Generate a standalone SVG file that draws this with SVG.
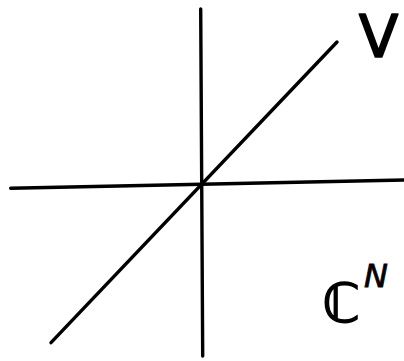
<svg xmlns="http://www.w3.org/2000/svg" width="404" height="361" viewBox="0 0 404 361">
<style>
.ln{stroke:#000;stroke-width:3.4;stroke-linecap:round;fill:none}
.lbl{font-family:"DejaVu Sans","Liberation Sans",sans-serif;fill:#000}
</style>
<rect width="404" height="361" fill="#fff"/>
<g id="axes">
<line class="ln" x1="200.7" y1="9" x2="202.7" y2="356"/>
<line class="ln" x1="10.7" y1="188.3" x2="404" y2="180"/>
<line class="ln" x1="51" y1="342.7" x2="337" y2="42"/>
</g>
<g id="label-V">
<text class="lbl" x="378.5" y="57" font-size="58" text-anchor="middle" font-family="Liberation Sans, sans-serif" stroke="#000" stroke-width="1.6" stroke-linejoin="round">V</text>
</g>
<g id="label-CN">
<text class="lbl" x="341" y="322" font-size="54" text-anchor="middle" stroke="#000" stroke-width="1.5">ℂ</text>
<text class="lbl" x="364" y="287" font-size="32" font-style="italic" stroke="#000" stroke-width="0.8">N</text>
</g>
</svg>
